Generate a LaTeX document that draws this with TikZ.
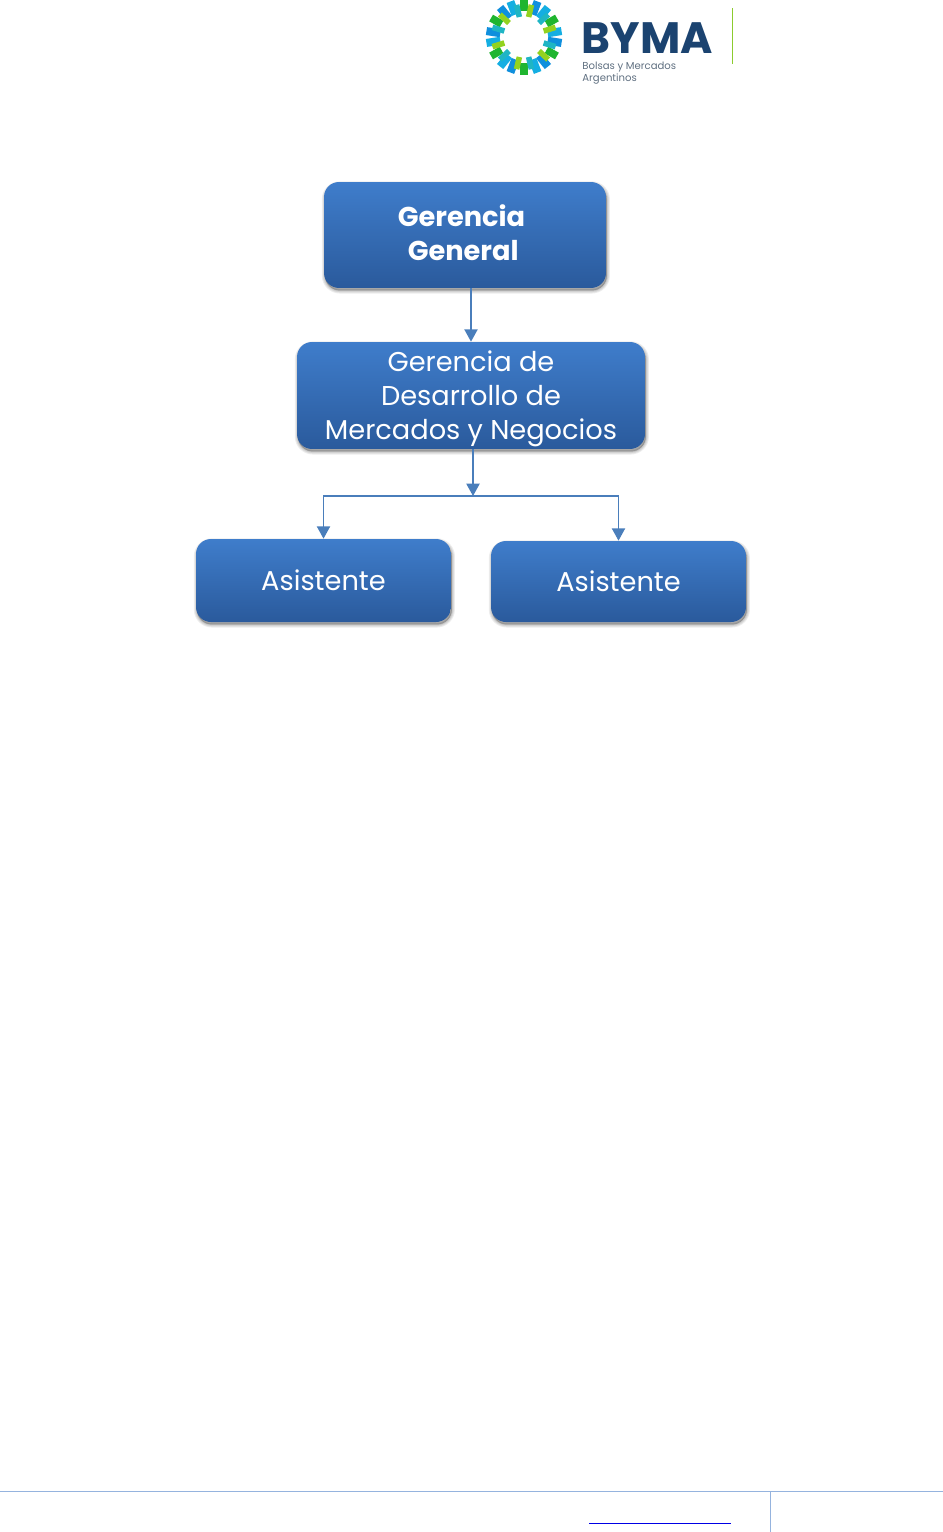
\documentclass[tikz,border=0pt]{standalone}
\usepackage{fontspec}
\setmainfont{Poppins}
\usetikzlibrary{arrows.meta,calc,shadows}
\definecolor{boxtop}{HTML}{3F7DCB}
\definecolor{boxbot}{HTML}{2A5A9C}
\definecolor{connblue}{HTML}{4A7EBB}
\definecolor{footblue}{HTML}{95B3DE}
\definecolor{bymanavy}{HTML}{1B4370}
\definecolor{bymagrey}{HTML}{5F6F80}
\definecolor{bymagreen}{HTML}{8CCB2E}
\definecolor{ringblue}{HTML}{0F8FDD}
\definecolor{ringsky}{HTML}{14AEE2}
\definecolor{ringgreen}{HTML}{1FB52F}
\definecolor{ringteal}{HTML}{1FB5C4}
\definecolor{ringlime}{HTML}{93D21F}
\tikzset{
  softshade/.style={drop shadow={shadow xshift=.5pt,shadow yshift=-1.4pt,opacity=.07,
    fill=black,draw=black,line width=#1}},
  orgbox/.style={rectangle,rounded corners=8.5pt,top color=boxtop,bottom color=boxbot,
    draw=none,text=white,align=center,inner sep=0pt,
    softshade=3.5pt,softshade=2.4pt,softshade=1.4pt,softshade=.5pt,
    font=\fontsize{15.5}{19.3}\selectfont},
  conn/.style={draw=connblue,line width=.8pt,-{Triangle[width=7.5pt,length=7pt,fill=connblue]}}
}
\begin{document}
\begin{tikzpicture}[x=.02cm,y=-.02cm]
  \useasboundingbox (0,0) rectangle (943,1532);
  % logo
  \foreach \a in {90,30,-30,-90,-150,150}
    \fill[ringgreen,rotate around={\a:(524,37)}] (550,33.2) rectangle (562,40.8);
  \foreach \a/\c in {69/ringblue,51/ringsky,9/ringsky,-9/ringblue,-51/ringblue,-69/ringsky,
      -111/ringblue,-129/ringsky,-171/ringsky,171/ringblue,129/ringblue,111/ringsky}
    \fill[\c,rotate around={\a:(524,37)}] (548,33) rectangle (562,41);
  \foreach \a/\c in {77/ringlime,43/ringteal,17/ringlime,-17/ringteal,-43/ringlime,-77/ringteal,
      -103/ringlime,-137/ringteal,-163/ringlime,163/ringteal,137/ringlime,103/ringteal}
    \fill[\c,rotate around={\a:(524,37)}] (544.5,34.2) rectangle (557,39.8);
  \node[anchor=west,inner sep=0pt,text height=18pt,text depth=0pt,text=bymanavy,
    font=\fontsize{25}{25}\selectfont\bfseries] (byma) at (581.5,38) {BYMA};
  \node[anchor=west,inner sep=0pt,text=bymagrey,font=\fontsize{5.75}{6.8}\selectfont,align=left] (bolsas) at (582,73.5) {Bolsas y Mercados\\Argentinos};
  \draw[bymagreen,line width=.6pt] (732.5,8)--(732.5,64);
  % boxes
  \node[orgbox,minimum width=5.64cm,minimum height=2.12cm,font=\fontsize{15.5}{19.3}\selectfont\bfseries] (gg) at (465,235)
    {\hspace*{-4pt}Gerencia\\\hspace*{-2pt}General\rule[-2.3pt]{0pt}{1pt}};
  \node[orgbox,minimum width=6.96cm,minimum height=2.14cm] (gd) at (471,395.5)
    {\rule{0pt}{15.2pt}Gerencia de\\Desarrollo de\\Mercados y Negocios};
  \node[orgbox,minimum width=5.1cm,minimum height=1.66cm] (as1) at (323.5,580.5) {Asistente};
  \node[orgbox,minimum width=5.1cm,minimum height=1.62cm] (as2) at (618.5,581.5) {Asistente};
  % connectors
  \coordinate (join) at (473,496);
  \draw[conn] (gd.north |- gg.south)--(gd.north);
  \draw[conn] (gd.south -| join)--(join);
  \draw[conn] (join)-|(as1.north);
  \draw[conn] (join)-|(as2.north);
  % footer
  \draw[footblue,line width=.5pt] (0,1491.5)--(943,1491.5);
  \draw[footblue,line width=.5pt] (770.5,1491.5)--(770.5,1532);
  \draw[blue!90!black,line width=.5pt] (589,1523.5)--(731,1523.5);
\end{tikzpicture}
\end{document}
